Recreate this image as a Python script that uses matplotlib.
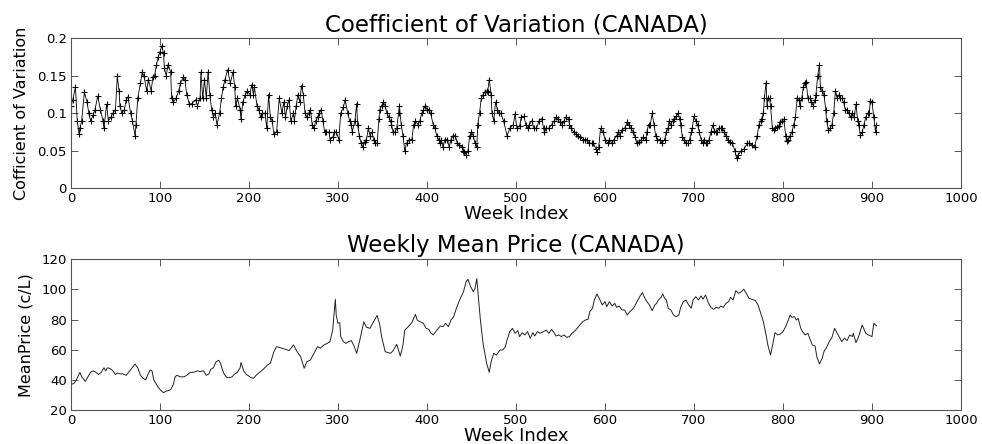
import matplotlib
matplotlib.use('Agg')
import matplotlib.pyplot as plt

plt.rcParams['font.family'] = ['DejaVu Sans']

# coefficient of variation
cv_week = [
    0, 2, 5, 7, 9, 10, 12, 15, 18, 20, 22, 25, 27, 30, 33, 36, 37, 40, 42, 45,
    47, 50, 52, 54, 55, 57, 60, 62, 64, 67, 69, 72, 73, 75, 78, 80, 82, 85, 87, 90,
    92, 94, 96, 98, 100, 102, 104, 105, 107, 109, 112, 113, 115, 118, 121, 123, 126, 128, 130, 133,
    136, 140, 142, 145, 146, 148, 150, 152, 154, 156, 158, 160, 162, 164, 167, 169, 171, 173, 176, 179,
    182, 184, 185, 187, 190, 191, 193, 196, 198, 201, 203, 205, 206, 209, 211,
    213, 215, 218, 220, 222, 224, 226, 228, 231, 234, 237, 239, 241, 243, 245, 247, 250, 251, 253, 255,
    257, 259, 261, 263, 265, 267, 269, 271, 273, 275, 277, 279, 281, 283, 285, 287, 290, 291, 294, 296,
    298, 301, 303, 306, 308, 311, 313, 315, 316, 319, 321, 322, 324, 326, 328, 330, 332, 334, 336, 338,
    340, 342, 344, 346, 347, 349, 351, 353, 355, 357, 359, 360, 362, 364, 366, 368, 369, 371, 373, 375,
    377, 380, 383, 385, 387, 390, 392, 394, 396, 398, 400, 402, 404, 407, 409, 411, 413, 415, 416, 418,
    420, 423, 425, 427, 429, 432, 434, 436, 439, 441, 442, 444, 446, 448, 450, 452, 454, 456, 457, 459,
    461, 463, 465, 467, 468, 470, 472, 473, 475, 477, 479, 481,
    483, 486, 490, 493, 497, 499, 501, 504, 506, 509, 511, 513, 515, 518, 520, 523, 526, 529, 531, 532,
    534, 537, 540, 543, 545, 547, 549, 552, 554, 556, 559, 560, 562, 565, 567, 570, 572, 575, 577, 580,
    582, 585, 587, 590, 591, 593, 595, 598, 600, 603, 605, 608, 610, 613, 615, 617, 619, 622, 625, 627,
    629, 632, 634, 636, 638, 641, 643, 646, 647, 649, 651, 653, 655, 657, 659, 662, 664, 667, 669, 671,
    672, 674, 676, 678, 680, 682, 684, 685, 687, 689, 691, 693, 695, 697, 698, 700, 702, 704, 706, 708,
    710, 711, 713, 715, 717, 719, 721, 723, 725, 726, 728, 730, 732, 734, 736, 738,
    740, 743, 746, 748, 750, 753, 756, 760, 762, 765, 768, 771, 773, 775, 776, 778, 779, 781, 782, 783,
    785, 786, 788, 790, 791, 793, 795, 797, 799, 801, 803, 804, 806, 808, 810, 812, 814, 816, 818, 819,
    821, 823, 825, 826, 828, 830, 832, 834, 836, 837, 839, 841, 842, 844, 846, 848, 849, 851, 853, 855,
    857, 859, 861, 863, 864, 866, 868, 870, 872, 874, 876, 878, 880, 882, 884, 885, 887, 889, 891, 893,
    895, 897, 898, 900, 902, 904, 905,
]
cv_value = [
    0.110, 0.118, 0.135, 0.090, 0.073, 0.080, 0.090, 0.128, 0.115, 0.100, 0.090, 0.098, 0.105, 0.123, 0.105, 0.090, 0.080, 0.112, 0.090, 0.095,
    0.100, 0.105, 0.150, 0.130, 0.110, 0.100, 0.105, 0.118, 0.122, 0.100, 0.090, 0.070, 0.085, 0.120, 0.140, 0.155, 0.150, 0.130, 0.145, 0.130,
    0.148, 0.150, 0.165, 0.175, 0.182, 0.190, 0.180, 0.160, 0.150, 0.165, 0.155, 0.120, 0.115, 0.120, 0.130, 0.140, 0.148, 0.145, 0.125, 0.112,
    0.113, 0.118, 0.110, 0.120, 0.155, 0.120, 0.145, 0.120, 0.155, 0.125, 0.105, 0.095, 0.100, 0.085, 0.100, 0.120, 0.135, 0.145, 0.158, 0.140,
    0.155, 0.135, 0.110, 0.120, 0.105, 0.092, 0.115, 0.125, 0.130, 0.125, 0.138, 0.125, 0.135, 0.110, 0.105,
    0.095, 0.100, 0.100, 0.080, 0.125, 0.095, 0.090, 0.072, 0.075, 0.120, 0.100, 0.115, 0.095, 0.110, 0.118, 0.090, 0.100, 0.090, 0.110, 0.125,
    0.115, 0.137, 0.125, 0.100, 0.095, 0.100, 0.105, 0.085, 0.080, 0.090, 0.095, 0.100, 0.105, 0.090, 0.075, 0.075, 0.075, 0.065, 0.068, 0.075,
    0.075, 0.065, 0.100, 0.108, 0.118, 0.100, 0.090, 0.085, 0.075, 0.090, 0.113, 0.085, 0.070, 0.060, 0.055, 0.062, 0.065, 0.080, 0.070, 0.075,
    0.065, 0.060, 0.060, 0.093, 0.105, 0.110, 0.115, 0.110, 0.100, 0.095, 0.090, 0.085, 0.075, 0.075, 0.080, 0.100, 0.110, 0.085, 0.070, 0.050,
    0.060, 0.065, 0.065, 0.085, 0.090, 0.085, 0.090, 0.100, 0.105, 0.110, 0.105, 0.105, 0.100, 0.085, 0.080, 0.070, 0.065, 0.060, 0.065, 0.055,
    0.065, 0.065, 0.055, 0.065, 0.070, 0.070, 0.060, 0.058, 0.055, 0.050, 0.048, 0.045, 0.050, 0.070, 0.075, 0.070, 0.060, 0.055, 0.085, 0.100,
    0.120, 0.125, 0.128, 0.130, 0.128, 0.145, 0.125, 0.100, 0.090, 0.115, 0.105, 0.100,
    0.100, 0.090, 0.070, 0.080, 0.085, 0.099, 0.080, 0.083, 0.095, 0.096, 0.085, 0.080, 0.085, 0.090, 0.080, 0.080, 0.090, 0.093, 0.080, 0.075,
    0.080, 0.080, 0.085, 0.090, 0.095, 0.092, 0.088, 0.085, 0.090, 0.095, 0.093, 0.085, 0.080, 0.075, 0.072, 0.070, 0.068, 0.065, 0.065, 0.065,
    0.060, 0.060, 0.060, 0.052, 0.048, 0.055, 0.080, 0.075, 0.065, 0.060, 0.065, 0.060, 0.065, 0.070, 0.075, 0.070, 0.078, 0.080, 0.088, 0.085,
    0.080, 0.075, 0.068, 0.060, 0.062, 0.065, 0.068, 0.065, 0.075, 0.085, 0.085, 0.100, 0.085, 0.070, 0.065, 0.065, 0.060, 0.065, 0.075, 0.080,
    0.090, 0.085, 0.090, 0.092, 0.096, 0.100, 0.092, 0.085, 0.068, 0.065, 0.060, 0.060, 0.065, 0.075, 0.080, 0.096, 0.090, 0.085, 0.075, 0.065,
    0.060, 0.065, 0.060, 0.060, 0.065, 0.075, 0.084, 0.077, 0.075, 0.075, 0.080, 0.080, 0.080, 0.075, 0.070, 0.065,
    0.062, 0.060, 0.050, 0.040, 0.045, 0.050, 0.052, 0.060, 0.060, 0.058, 0.055, 0.070, 0.085, 0.090, 0.093, 0.100, 0.120, 0.141, 0.110, 0.120,
    0.120, 0.110, 0.081, 0.078, 0.080, 0.082, 0.083, 0.088, 0.090, 0.092, 0.070, 0.063, 0.065, 0.070, 0.075, 0.085, 0.095, 0.121, 0.118, 0.110,
    0.120, 0.135, 0.140, 0.142, 0.120, 0.120, 0.115, 0.110, 0.118, 0.125, 0.150, 0.165, 0.135, 0.130, 0.125, 0.105, 0.090, 0.078, 0.080, 0.085,
    0.100, 0.130, 0.120, 0.125, 0.120, 0.120, 0.115, 0.105, 0.105, 0.100, 0.095, 0.100, 0.095, 0.112, 0.090, 0.085, 0.071, 0.075, 0.085, 0.095,
    0.100, 0.100, 0.116, 0.115, 0.095, 0.075, 0.085,
]

# weekly mean price (c/L)
price_week = [
    0, 3, 6, 10, 12, 16, 19, 22, 25, 28, 31, 34, 37, 39, 41, 44, 47, 50, 52, 55,
    58, 62, 66, 70, 72, 75, 78, 81, 84, 86, 89, 91, 93, 96, 98, 101, 104, 107, 110, 112,
    115, 117, 119, 123, 127, 130, 134, 138, 142, 145, 149, 152, 155, 157, 160, 163, 166, 168, 170, 172,
    175, 178, 181, 184, 187, 190, 191, 194, 197, 200, 202, 205, 208, 212,
    216, 221, 224, 228, 231, 234, 237, 241, 245, 250, 254, 258, 262, 265, 269, 273, 277, 280, 284, 288,
    291, 294, 297, 298, 300, 302, 303, 306, 309, 312, 315, 318, 321, 325, 329, 332, 336, 340, 344, 347,
    349, 353, 359, 362, 366, 370, 373, 375, 379, 383, 387, 389, 392, 396, 399, 402, 404, 407, 411, 415,
    418, 421, 424, 427, 430, 433, 437, 441, 444, 446, 449, 452, 454, 456, 458, 460, 463, 467, 470, 472,
    475, 478, 482, 485, 488, 490, 493, 496, 499, 502,
    504, 507, 510, 513, 516, 519, 521, 524, 527, 531, 534, 537, 540, 542, 545, 548, 551, 554, 557, 560,
    563, 567, 571, 575, 578, 581, 583, 586, 588, 591, 594, 597, 600, 602, 605, 608, 611, 613, 616, 619,
    622, 625, 628, 631, 633, 636, 639, 642, 644, 647, 650, 653, 656, 658, 660, 663, 665, 667, 669, 671,
    674, 677, 680, 683, 685, 688, 691, 694, 697, 699, 702, 705, 708, 710, 713, 716, 719, 722, 725, 728,
    730, 733, 736, 739, 741, 744, 747, 750, 753, 756, 759, 762, 765, 769, 772, 775, 778, 781, 783, 786,
    788, 791, 794, 797, 800, 803, 806, 808, 810, 813, 815, 817, 820, 822, 825, 828, 830, 833, 836, 838,
    841, 844, 846, 849, 852, 855, 858, 861, 864, 866, 869, 872, 875, 878, 879, 882, 885, 889, 893, 896,
    900, 902, 905,
]
price_value = [
    37, 37.5, 40, 45, 42, 39, 42, 45, 46, 45, 43.5, 45, 48, 46, 48, 47.5, 46, 43.5, 44.5, 44,
    44, 43, 46, 49, 50.5, 48, 43, 41, 40, 43, 46.5, 46, 40, 37, 35, 33, 31.5, 32.5, 33, 33.5,
    37, 42, 43, 42, 42, 43, 45, 45, 46, 45.5, 46, 43, 44, 47, 48, 52, 53, 51, 47, 44,
    41.5, 41.5, 42, 44, 45, 48, 51.5, 46, 43.5, 42.5, 41.5, 41, 43, 45,
    47, 50, 51, 58.7, 62, 61.6, 61, 60.3, 59.4, 63.1, 58.7, 55.4, 47.7, 52, 53.2, 57.6, 62, 61, 63.1, 64.2,
    65.4, 73, 93.5, 83, 77.5, 78, 68.7, 65.4, 64.2, 65.4, 66, 62.5, 57.6, 67.6, 78.6, 74.9, 74.2, 78.6, 82.8, 76.4,
    68.7, 58.7, 57.6, 59.4, 63.6, 55.8, 63.1, 73, 75.3, 78, 83.5, 79.7, 78.6, 77.5, 74.2, 73.5, 71.3, 69.8, 73, 75.8,
    75.3, 77.5, 75.3, 79.7, 81.9, 87.5, 93.5, 98.5, 105.2, 106.7, 101.9, 98.5, 100.8, 107.2, 93, 79.7, 64.2, 51, 45, 52,
    57.6, 56.5, 59.8, 59.8, 62, 66.5, 72, 74.2, 70.9, 72.7,
    68.7, 71.3, 69.8, 72, 67.6, 71.3, 69.1, 72, 70.9, 72, 73, 70.9, 73.5, 72, 69.1, 69.8, 68.7, 69.8, 68.2, 68.7,
    70.9, 73, 75.8, 78.6, 79.7, 80.2, 85.3, 87.5, 93, 97, 93.5, 89.7, 91.9, 88.6, 91.9, 89, 90.8, 88.1, 89, 86.4,
    86.4, 83, 85.3, 86.8, 88.6, 91.9, 95.2, 97.9, 95.2, 91.9, 89.7, 85.9, 89.7, 90.8, 93, 94.8, 97, 94.1, 93, 87.5,
    86.4, 83, 81.9, 83, 88.1, 91.9, 93, 89.7, 87.5, 93, 95.2, 93, 95.7, 93.5, 96.3, 91.2, 88.1, 86.8, 88.1, 87.5,
    89, 88.1, 90.8, 91.9, 94.8, 93, 99.2, 97.4, 98.5, 100.1, 97, 94, 93.5, 92.6, 89.7, 84.2, 78.6, 69.8, 63.1, 56.5,
    62, 71.3, 69.8, 70.4, 72, 75.3, 79.7, 83, 81.5, 81.9, 79.7, 80.8, 74.2, 72, 69.8, 70.9, 67.6, 63.1, 62.5, 55.4,
    50.5, 54.3, 58.7, 61.6, 65.4, 68.2, 74.2, 70.9, 67.6, 65.4, 67.6, 66, 69.8, 68.7, 70.9, 64.7, 68.7, 76.4, 70.9, 69.8,
    68.7, 77.5, 75.8,
]

fig = plt.figure(figsize=(9.82, 4.44), dpi=100)
ax1 = fig.add_axes([0.0723, 0.5759, 0.9063, 0.3378])
ax2 = fig.add_axes([0.0723, 0.0766, 0.9063, 0.3394])

ax1.plot(cv_week, cv_value, color='black', linewidth=0.6,
         marker='+', markersize=4.5, markeredgewidth=0.8)
ax1.set_xlim(0, 1000)
ax1.set_ylim(0, 0.2)
ax1.set_yticks([0, 0.05, 0.1, 0.15, 0.2])
ax1.set_yticklabels(['0', '0.05', '0.1', '0.15', '0.2'])
ax1.set_title('Coefficient of Variation (CANADA)', fontsize=16.5, pad=5)
ax1.set_xlabel('Week Index', fontsize=13, labelpad=0)
ax1.set_ylabel('Cofficient of Variation', fontsize=11.5, labelpad=6)

ax2.plot(price_week, price_value, color='#222222', linewidth=0.7)
ax2.set_xlim(0, 1000)
ax2.set_ylim(20, 120)
ax2.set_yticks([20, 40, 60, 80, 100, 120])
ax2.set_title('Weekly Mean Price (CANADA)', fontsize=16.5, pad=5)
ax2.set_xlabel('Week Index', fontsize=13, labelpad=0)
ax2.set_ylabel('MeanPrice (c/L)', fontsize=11.5, labelpad=6)

for ax in (ax1, ax2):
    ax.set_xticks(range(0, 1001, 100))
    ax.tick_params(direction='in', top=True, right=True, length=4.7,
                   width=0.7, color='#555555', labelsize=9.5, pad=3)
    for s in ax.spines.values():
        s.set_color('#555555')
        s.set_linewidth(0.8)

fig.savefig('out.png', dpi=100)
